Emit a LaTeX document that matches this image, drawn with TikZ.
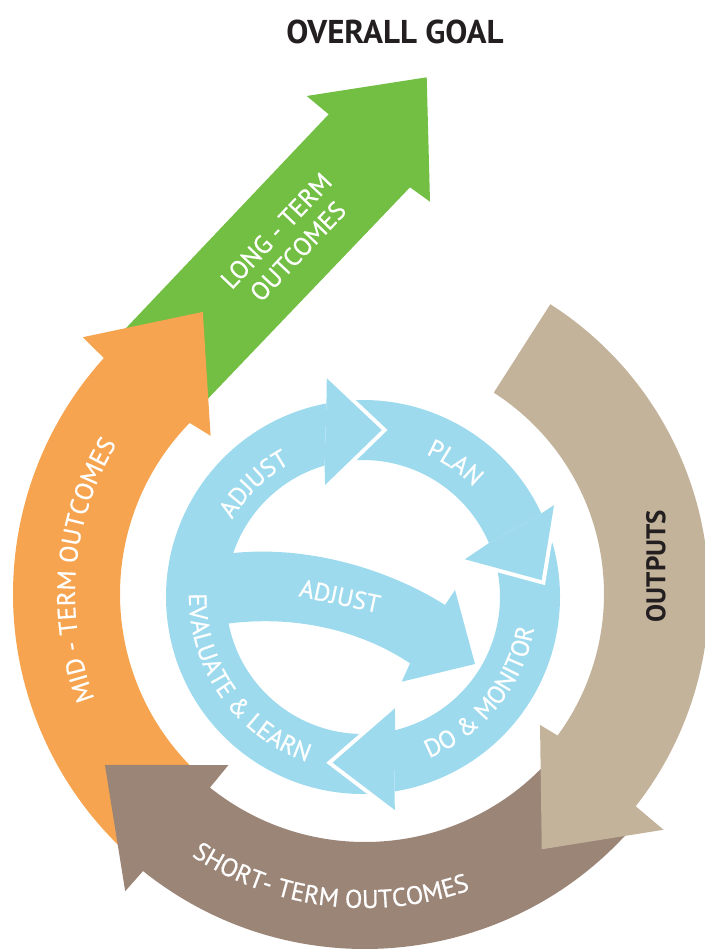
\documentclass[tikz,border=0pt]{standalone}
\usepackage{fontspec}
\usetikzlibrary{decorations.text}
\newfontfamily\lblfont[FakeBold=0.6]{PT Sans}
\newfontfamily\headfont{PT Sans Bold}
\newcommand\ringfont{\lblfont\fontsize{25.5}{30}\selectfont}
\newcommand\cyclefont{\lblfont\fontsize{25}{29}\selectfont}
\definecolor{goalgreen}{HTML}{72BF44}
\definecolor{midorange}{HTML}{F7A450}
\definecolor{shortbrown}{HTML}{9B8577}
\definecolor{outputtan}{HTML}{C4B39B}
\definecolor{cycleblue}{HTML}{9DDAEE}
\definecolor{darktext}{HTML}{231F20}
\tikzset{
  ringlabel/.style={text=white, font=\ringfont},
  cyclelabel/.style={text=white, font=\cyclefont},
  headgap/.style={draw=white, line width=8pt, line join=miter},
}

\begin{document}
\begin{tikzpicture}[x=1pt, y=-1pt]
    \useasboundingbox (0,0) rectangle (704,949);

    % title
    \node[font=\headfont\fontsize{33}{37}\selectfont, text=darktext] (goal) at (395,32) {OVERALL GOAL};

    % long-term arrow
    \fill[goalgreen] (110,345) -- (328.7,114.3) -- (306.7,96) -- (426.7,77.3)
        -- (430,201.7) -- (410,187.3) -- (200,407) -- cycle;
    \node[ringlabel, rotate=46.5, align=center] (longterm) at (287,241) {LONG - TERM\\OUTCOMES};

    % outer ring
    \begin{scope}[shift={(365,594)}]
        % mid-term
        \fill[midorange] (132:352) arc[start angle=132, end angle=222.1, radius=352]
            -- (222.3:381.6) -- (240.1:325.4) -- (225.7:221.1) -- (224.3:245)
            arc[start angle=224.3, end angle=132, radius=245] -- cycle;
        % short-term
        \fill[shortbrown] (40:355) arc[start angle=40, end angle=128.7, radius=355]
            -- (128.9:381.9) -- (146.7:311.2) -- (128.6:218.9) -- (128.7:248)
            arc[start angle=128.7, end angle=40, radius=248] -- cycle;
        % outputs
        \fill[outputtan] (-57.4:344) arc[start angle=-57.4, end angle=38.1, radius=344]
            -- (38.3:380.4) -- (55.3:310.5) -- (36.8:218.6) -- (36.3:239)
            arc[start angle=36.3, end angle=-57.4, radius=239] -- cycle;

        % ring labels
        \path[decorate, decoration={text along path, text align=center,
            text={|\ringfont\color{white}|MID - TERM OUTCOMES}}]
            (150:290) arc[start angle=150, end angle=220, radius=290];
        \path[decorate, decoration={text along path, text align=center,
            text={|\ringfont\color{white}|SHORT- TERM OUTCOMES}}]
            (140:314) arc[start angle=140, end angle=54, radius=314];
    \end{scope}
    \node[font=\headfont\fontsize{27}{31}\selectfont, text=darktext, rotate=90] (outputs) at (656,566) {OUTPUTS};

    % inner cycle
    \begin{scope}[shift={(363,597)}]
        % evaluate & learn, adjust
        \fill[cycleblue] (84:197) arc[start angle=84, end angle=259.3, radius=197]
            -- (253.7:137) arc[start angle=253.7, end angle=84, radius=137] -- cycle;
        % plan
        \fill[cycleblue] (262:197) arc[start angle=262, end angle=334.9, radius=197]
            -- (336.8:137) arc[start angle=336.8, end angle=262, radius=137] -- cycle;
        % do & monitor
        \fill[cycleblue] (-20:197) arc[start angle=-20, end angle=80.8, radius=197]
            -- (76.4:137) arc[start angle=76.4, end angle=-20, radius=137] -- cycle;

        % heads
        \foreach \notchout/\barbout/\tipp/\barbin/\notchin in
            {259.3:197/260.6:221.7/276.4:168/251.3:118.3/253.7:137,
             334.9:197/334.3:212/354.6:179.5/339.7:108.7/336.8:137,
             80.8:197/81.5:215.4/100.4:168.4/74:115.8/76.4:137}
        {
            \draw[headgap] (\barbout) -- (\tipp) -- (\barbin);
            \fill[cycleblue] (\notchout) -- (\barbout) -- (\tipp) -- (\barbin) -- (\notchin) -- cycle;
        }

        % cycle labels
        \path[decorate, decoration={text along path, text align=center,
            text={|\cyclefont\color{white}|ADJUST}}]
            (196:152) arc[start angle=196, end angle=256, radius=152];
        \path[decorate, decoration={text along path, text align=center,
            text={|\cyclefont\color{white}|PLAN}}]
            (275:156) arc[start angle=275, end angle=334, radius=156];
        \path[decorate, decoration={text along path, text align=center,
            text={|\cyclefont\color{white}|DO {\&} MONITOR}}]
            (80:174) arc[start angle=80, end angle=-2, radius=174];
        \path[decorate, decoration={text along path, text align=center,
            text={|\cyclefont\color{white}|EVALUATE {\&} LEARN}}]
            (195:174) arc[start angle=195, end angle=95, radius=174];
    \end{scope}

    % middle adjust arrow
    \fill[cycleblue] (212,556) .. controls (300,540) and (390,570) .. (445,605)
        -- (455,590) -- (475,664) -- (401.7,681.7) -- (410,663.3)
        .. controls (360,630) and (290,612) .. (212,626) -- cycle;
    \node[cyclelabel, rotate=-12] (adjustmid) at (340,596) {ADJUST};
\end{tikzpicture}
\end{document}
